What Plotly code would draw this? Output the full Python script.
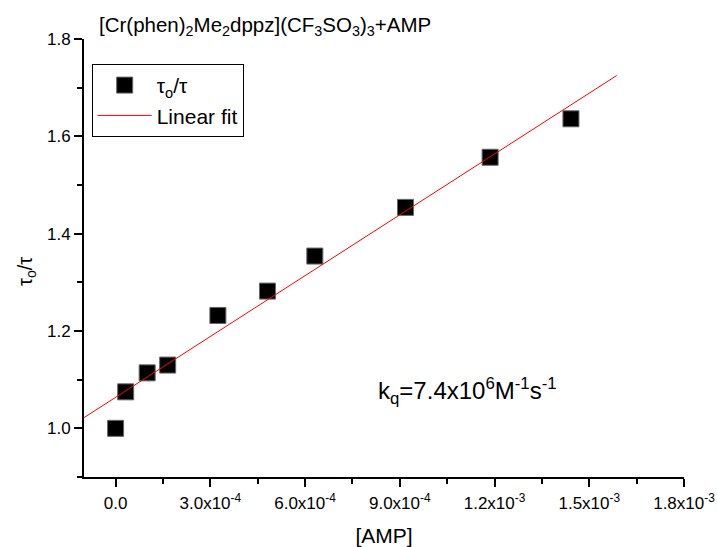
import plotly.graph_objects as go

# Quenching data: AMP concentration (M) vs lifetime ratio tau0/tau
amp_conc = [0.0, 3.2e-5, 1.0e-4, 1.65e-4, 3.24e-4, 4.81e-4, 6.31e-4, 9.18e-4, 1.186e-3, 1.442e-3]
tau_ratio = [1.000, 1.075, 1.114, 1.130, 1.232, 1.282, 1.354, 1.454, 1.557, 1.636]

# Linear fit line end points
fit_x = [-1.0e-4, 1.587e-3]
fit_y = [1.022, 1.725]

# Axis ticks
x_tickvals = [0.0, 3.0e-4, 6.0e-4, 9.0e-4, 1.2e-3, 1.5e-3, 1.8e-3]
x_ticktext = ["0.0", "3.0x10<sup>-4</sup>", "6.0x10<sup>-4</sup>", "9.0x10<sup>-4</sup>",
              "1.2x10<sup>-3</sup>", "1.5x10<sup>-3</sup>", "1.8x10<sup>-3</sup>"]
x_minorvals = [1.5e-4, 4.5e-4, 7.5e-4, 1.05e-3, 1.35e-3, 1.65e-3]
y_tickvals = [1.0, 1.2, 1.4, 1.6, 1.8]
y_ticktext = ["1.0", "1.2", "1.4", "1.6", "1.8"]
y_minorvals = [0.9, 1.1, 1.3, 1.5, 1.7]

FONT = "Arial, 'Liberation Sans', sans-serif"

fig = go.Figure()
fig.add_trace(go.Scatter(
    x=amp_conc, y=tau_ratio, mode="markers", name="τ<sub>o</sub>/τ",
    marker=dict(symbol="square", size=16, color="black",
                line=dict(color="#666666", width=1)),
))
fig.add_trace(go.Scatter(
    x=fit_x, y=fit_y, mode="lines", name="Linear fit",
    line=dict(color="#ff0000", width=1),
))

axis_common = dict(
    showline=True, linecolor="black", linewidth=1.8,
    ticks="outside", ticklen=8, tickwidth=1.6, tickcolor="black",
    showgrid=False, zeroline=False, mirror=False, automargin=False,
    tickfont=dict(family=FONT, size=17, color="black"),
)

fig.update_xaxes(
    range=[-1.0e-4, 1.8e-3], tickmode="array", tickvals=x_tickvals, ticktext=x_ticktext,
    ticklabelstandoff=2,
    minor=dict(tickmode="array", tickvals=x_minorvals, ticks="outside", ticklen=5,
               tickwidth=1.6, tickcolor="black", showgrid=False),
    title=dict(text="[AMP]", font=dict(family=FONT, size=21, color="black"), standoff=23),
    **axis_common,
)
fig.update_yaxes(
    range=[0.9, 1.8], tickmode="array", tickvals=y_tickvals, ticktext=y_ticktext,
    minor=dict(tickmode="array", tickvals=y_minorvals, ticks="outside", ticklen=5,
               tickwidth=1.6, tickcolor="black", showgrid=False),
    **axis_common,
)

# y-axis label, placed a little below the axis centre
fig.add_annotation(
    text="τ<sub>o</sub>/τ", textangle=-90,
    xref="paper", yref="paper", x=0, y=0.468, xshift=-58,
    xanchor="center", yanchor="middle", showarrow=False,
    font=dict(family=FONT, size=20, color="black"),
)
fig.add_annotation(
    text="[Cr(phen)<sub>2</sub>Me<sub>2</sub>dppz](CF<sub>3</sub>SO<sub>3</sub>)<sub>3</sub>+AMP",
    xref="paper", yref="paper", x=0.0217, y=1.03, xanchor="left", yanchor="middle",
    showarrow=False, font=dict(family=FONT, size=20.5, color="black"),
)
fig.add_annotation(
    text="k<sub>q</sub>=7.4x10<sup>6</sup>M<sup>-1</sup>s<sup>-1</sup>",
    xref="x", yref="y", x=8.26e-4, y=1.077, xanchor="left", yanchor="middle",
    showarrow=False, font=dict(family=FONT, size=24, color="black"),
)

fig.update_layout(
    width=717, height=547,
    margin=dict(l=84, r=33, t=39, b=70),
    paper_bgcolor="white", plot_bgcolor="white",
    showlegend=True,
    legend=dict(
        x=0.0128, y=0.943, xanchor="left", yanchor="top",
        bordercolor="black", borderwidth=1, bgcolor="white",
        font=dict(family=FONT, size=21, color="black"),
        itemwidth=54, tracegroupgap=0,
    ),
)

fig.write_html("out.html")
